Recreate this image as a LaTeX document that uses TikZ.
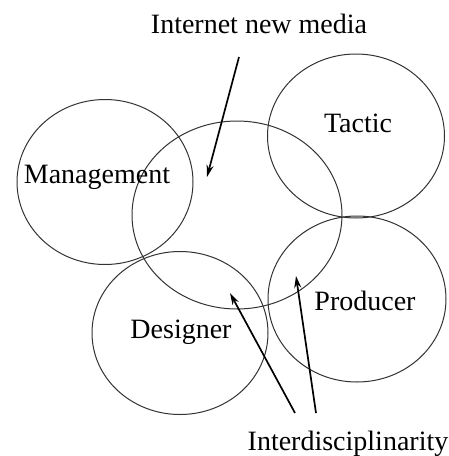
\documentclass[tikz,border=0pt]{standalone}
\usepackage{fontspec}
\setmainfont{Liberation Serif}
\usetikzlibrary{shapes.geometric,arrows.meta}
\begin{document}
\begin{tikzpicture}[x=1pt,y=-1pt,
  circ/.style={draw=black!80,ellipse,inner sep=0pt,line width=1pt},
  lbl/.style={inner sep=0pt,anchor=base,font=\fontsize{28}{33}\selectfont},
  arr/.style={line width=1.7pt,-{Stealth[length=12pt,width=7pt]}}]
\useasboundingbox (0,0) rectangle (448,456);
\node[circ,minimum width=176pt,minimum height=165pt] (mgmt) at (105,182) {};
\node[circ,minimum width=210pt,minimum height=188pt] (inet) at (237,215) {};
\node[circ,minimum width=177pt,minimum height=164pt] (tact) at (356,136) {};
\node[circ,minimum width=178pt,minimum height=166pt] (prod) at (357,299) {};
\node[circ,minimum width=176pt,minimum height=163pt] (desg) at (180,333) {};
\node[lbl] (tinet) at (259,33) {Internet new media};
\node[lbl] (tmgmt) at (97,183) {Management};
\node[lbl] (ttact) at (358,132) {Tactic};
\node[lbl] (tdesg) at (181,338) {Designer};
\node[lbl] (tprod) at (365,310) {Producer};
\node[lbl] (tinter) at (348,450) {Interdisciplinarity};
\coordinate (a1s) at (239,57);
\coordinate (a1e) at (207,177);
\coordinate (a2s) at (295,413);
\coordinate (a2e) at (230,293);
\coordinate (a3s) at (316,413);
\coordinate (a3e) at (296,276);
\draw[arr] (a1s) -- (a1e);
\draw[arr] (a2s) -- (a2e);
\draw[arr] (a3s) -- (a3e);
\end{tikzpicture}
\end{document}
